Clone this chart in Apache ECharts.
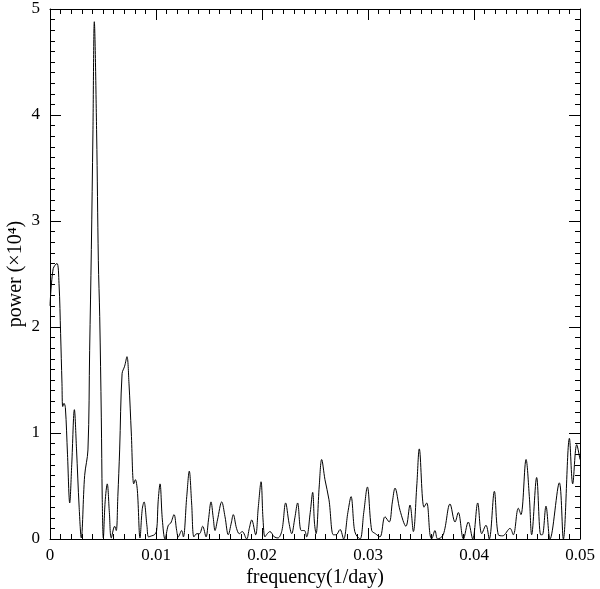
<!DOCTYPE html>
<html>
<head>
<meta charset="utf-8">
<script src="https://cdn.jsdelivr.net/npm/echarts@6/dist/echarts.min.js"></script>
<style>html,body{margin:0;padding:0;background:#fff}#c{width:600px;height:589px}</style>
</head>
<body>
<div id="c"></div>
<script>
var freq = [0.00000,0.00030,0.00066,0.00085,0.00100,0.00113,0.00120,0.00132,0.00145,0.00165,0.00186,0.00205,0.00230,0.00250,0.00275,0.00295,0.00327,0.00358,0.00374,0.00390,0.00405,0.00418,0.00440,0.00456,0.00469,0.00484,0.00493,0.00503,0.00520,0.00540,0.00560,0.00578,0.00610,0.00625,0.00640,0.00657,0.00680,0.00704,0.00726,0.00745,0.00767,0.00790,0.00805,0.00824,0.00849,0.00870,0.00887,0.00915,0.00930,0.00960,0.00985,0.01006,0.01020,0.01038,0.01060,0.01085,0.01116,0.01139,0.01170,0.01195,0.01210,0.01242,0.01258,0.01290,0.01314,0.01336,0.01358,0.01385,0.01410,0.01440,0.01472,0.01495,0.01519,0.01540,0.01557,0.01580,0.01620,0.01651,0.01682,0.01710,0.01729,0.01760,0.01786,0.01814,0.01855,0.01880,0.01903,0.01940,0.01965,0.01991,0.02010,0.02028,0.02050,0.02075,0.02116,0.02150,0.02188,0.02223,0.02255,0.02280,0.02310,0.02336,0.02370,0.02400,0.02421,0.02455,0.02478,0.02495,0.02510,0.02540,0.02563,0.02594,0.02632,0.02673,0.02700,0.02736,0.02770,0.02810,0.02840,0.02870,0.02887,0.02925,0.02960,0.02994,0.03035,0.03070,0.03113,0.03160,0.03200,0.03230,0.03255,0.03302,0.03358,0.03396,0.03428,0.03460,0.03484,0.03528,0.03554,0.03585,0.03600,0.03632,0.03657,0.03710,0.03774,0.03821,0.03852,0.03900,0.03946,0.03988,0.04035,0.04073,0.04113,0.04144,0.04192,0.04229,0.04270,0.04340,0.04371,0.04418,0.04443,0.04491,0.04522,0.04544,0.04591,0.04629,0.04645,0.04679,0.04717,0.04805,0.04843,0.04900,0.04931,0.04969,0.05000];
var power = [2.20,2.55,2.60,2.41,1.94,1.47,1.25,1.28,1.24,0.80,0.34,0.70,1.22,0.85,0.30,0.01,0.60,0.84,1.78,2.73,3.83,4.88,3.83,2.63,2.10,1.15,0.37,0.01,0.35,0.52,0.25,0.01,0.12,0.08,0.40,0.84,1.56,1.63,1.72,1.47,1.00,0.52,0.56,0.46,0.01,0.28,0.35,0.12,0.02,0.03,0.04,0.08,0.35,0.52,0.18,0.00,0.13,0.15,0.23,0.08,0.02,0.08,0.02,0.40,0.64,0.34,0.02,0.05,0.05,0.12,0.02,0.18,0.35,0.20,0.08,0.18,0.35,0.21,0.04,0.15,0.23,0.10,0.05,0.07,0.00,0.10,0.18,0.04,0.30,0.54,0.18,0.02,0.05,0.07,0.02,0.01,0.08,0.34,0.15,0.05,0.20,0.34,0.08,0.08,0.02,0.25,0.44,0.15,0.05,0.50,0.75,0.56,0.37,0.04,0.04,0.09,0.00,0.25,0.40,0.10,0.04,0.00,0.25,0.49,0.08,0.05,0.02,0.21,0.16,0.35,0.48,0.27,0.12,0.32,0.07,0.50,0.85,0.30,0.34,0.04,0.00,0.08,0.00,0.04,0.33,0.16,0.25,0.00,0.16,0.00,0.34,0.05,0.13,0.00,0.45,0.04,0.03,0.10,0.04,0.29,0.23,0.75,0.40,0.04,0.58,0.04,0.04,0.31,0.00,0.53,0.00,0.95,0.52,0.89,0.75];
var xTicks = ['0','0.01','0.02','0.03','0.04','0.05'];
var yTicks = ['0','1','2','3','4','5'];

var pts = freq.map(function(f,i){return [f, power[i]];});
var font = 'Liberation Serif';
var txt = {color:'#000', fontFamily:font, fontSize:17};
function xAxis(pos, show){
  return {type:'value', position:pos, min:0, max:0.05, interval:0.01,
    axisLine:{show:true, onZero:false, lineStyle:{color:'#000', width:1}},
    axisTick:{show:true, inside:true, length:11, lineStyle:{color:'#000'}},
    minorTick:{show:true, splitNumber:10, length:5, lineStyle:{color:'#000'}},
    splitLine:{show:false},
    axisLabel:show ? Object.assign({margin:8, formatter:function(v){var i=Math.round(v/0.01);return xTicks[i];}}, txt) : {show:false},
    name: show ? 'frequency(1/day)' : '', nameLocation:'middle', nameGap:29, nameMoveOverlap:false,
    nameTextStyle:{color:'#000', fontFamily:font, fontSize:20}};
}
function yAxis(pos, show){
  return {type:'value', position:pos, min:0, max:5, interval:1,
    axisLine:{show:true, onZero:false, lineStyle:{color:'#000', width:1}},
    axisTick:{show:true, inside:true, length:11, lineStyle:{color:'#000'}},
    minorTick:{show:true, splitNumber:10, length:5, lineStyle:{color:'#000'}},
    splitLine:{show:false},
    axisLabel:show ? Object.assign({margin:10, formatter:function(v){return yTicks[Math.round(v)];}}, txt) : {show:false},
    name: show ? 'power (×10⁴)' : '', nameLocation:'middle', nameGap:24, nameRotate:90, nameMoveOverlap:false,
    nameTextStyle:{color:'#000', fontFamily:font, fontSize:20}};
}
var chart = echarts.init(document.getElementById('c'), null, {renderer:'canvas'});
chart.setOption({
  animation:false,
  backgroundColor:'#fff',
  grid:{left:50, right:20, top:9, bottom:50, containLabel:false, outerBoundsMode:'none'},
  xAxis:[xAxis('bottom', true), xAxis('top', false)],
  yAxis:[yAxis('left', true), yAxis('right', false)],
  series:[{type:'line', data:pts, xAxisIndex:0, yAxisIndex:0, showSymbol:false, smooth:0.35,
    lineStyle:{color:'#000', width:1}, clip:true}]
});
</script>
</body>
</html>
